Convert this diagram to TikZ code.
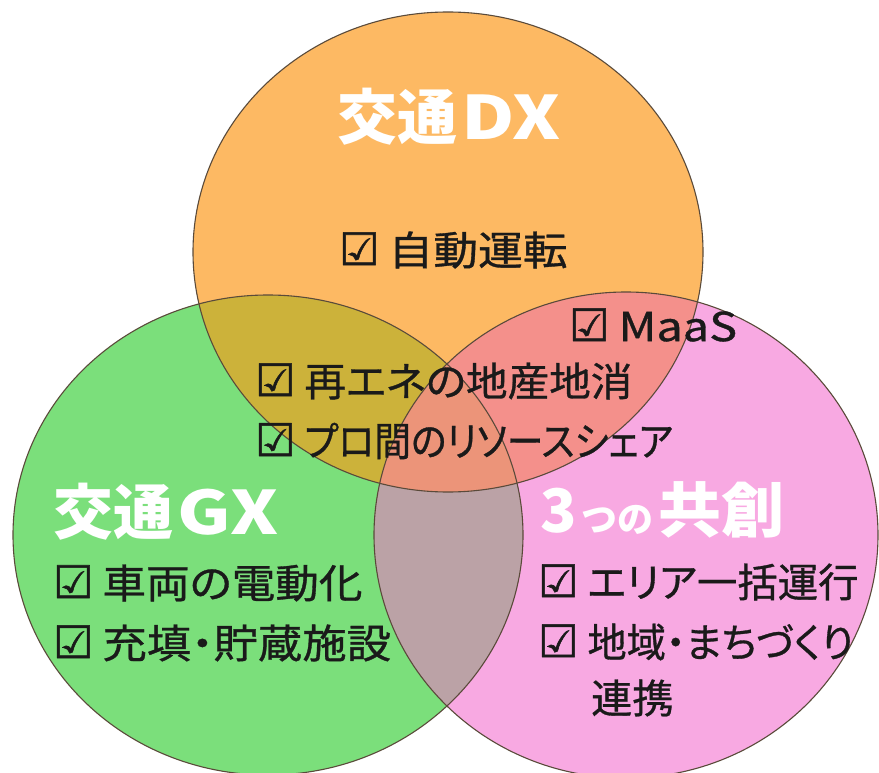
\documentclass[tikz,border=0pt]{standalone}
\usepackage{graphicx}
\usepackage{fontspec}
\newfontfamily\jp[RawFeature=+palt,FakeBold=0.8]{Noto Sans CJK JP}
\newfontfamily\jptitle{Noto Sans CJK JP}
\newfontfamily\dejavu[FakeBold=1.2]{DejaVu Sans}
\newcommand\cb{{\dejavu\fontsize{45}{45}\selectfont ☑}}
\newcommand\cbline[2]{\cb\ \scalebox{#1}[1]{#2}}
\definecolor{cOr}{HTML}{FDB963}
\definecolor{cGr}{HTML}{7BDF7B}
\definecolor{cPk}{HTML}{F8A9E2}
\definecolor{cOG}{HTML}{CCB23A}
\definecolor{cOP}{HTML}{F4908B}
\definecolor{cGP}{HTML}{BBA2A6}
\definecolor{cOGP}{HTML}{EC9479}
\definecolor{cLine}{HTML}{5A4A3A}
\definecolor{cTxt}{HTML}{1A1A1A}
\tikzset{
  body/.style={anchor=west, inner sep=0pt, text=cTxt, font=\jp\fontsize{40}{40}\selectfont},
  title/.style={anchor=west, inner sep=0pt, text=white, font=\jptitle\bfseries\fontsize{60}{60}\selectfont},
  rim/.style={draw=cLine, line width=1.1pt}
}
\begin{document}
\begin{tikzpicture}[x=1pt,y=-1pt]
\useasboundingbox (0,0) rectangle (879,773);
\fill[white] (0,0) rectangle (879,773);
\def\O{(448,252) ellipse [x radius=255pt, y radius=240pt]}
\def\G{(268,535) ellipse [x radius=255pt, y radius=240pt]}
\def\P{(626,535) ellipse [x radius=252pt, y radius=243pt]}
\fill[cOr] \O;
\fill[cGr] \G;
\fill[cPk] \P;
\begin{scope}\clip \O; \fill[cOG] \G; \end{scope}
\begin{scope}\clip \O; \fill[cOP] \P; \end{scope}
\begin{scope}\clip \G; \fill[cGP] \P; \end{scope}
\begin{scope}\clip \O; \clip \G; \fill[cOGP] \P; \end{scope}
\draw[rim] \O;
\draw[rim] \G;
\draw[rim] \P;

\node[title] (tDX) at (337,117) {交通\hspace{4pt}\scalebox{1.22}[1]{DX}};
\node[body] (a1) at (339,250) {\cbline{1.12}{自動運転}};
\node[body] (a2) at (569,325) {\cbline{1.17}{MaaS}};
\node[body] (a3) at (255,381) {\cbline{1.04}{再エネの地産地消}};
\node[body] (a4) at (255,441) {\cbline{0.92}{プロ間のリソースシェア}};
\node[title] (tGX) at (53,512) {交通\hspace{4pt}\scalebox{1.22}[1]{GX}};
\node[body] (g1) at (53,583) {\cbline{1.09}{車両の電動化}};
\node[body] (g2) at (53,643) {\cbline{1.11}{充填・貯蔵施設}};
\node[title] (tKS) at (540,510) {3\hspace{5pt}{\fontsize{36}{36}\selectfont つの}\hspace{5pt}\scalebox{1.05}[1]{共創}};
\node[body] (k1) at (538,582) {\cbline{1.01}{エリア一括運行}};
\node[body] (k2) at (538,642) {\cbline{0.98}{地域・まちづくり}};
\node[body] (k3) at (591,698) {\scalebox{1.03}[1]{連携}};
\end{tikzpicture}
\end{document}
